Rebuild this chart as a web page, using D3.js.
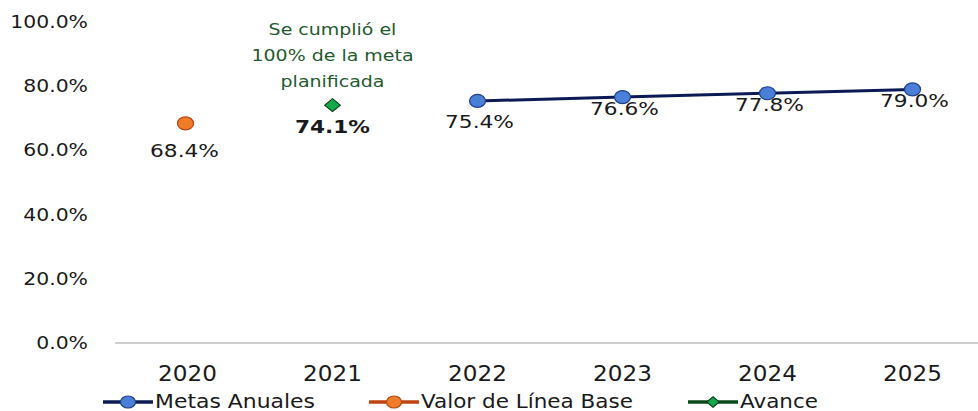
<!DOCTYPE html>
<html>
<head>
<meta charset="utf-8">
<script src="https://cdn.jsdelivr.net/npm/d3@7"></script>
<style>
  body { margin: 0; background: #fff; }
  svg text { font-family: "DejaVu Sans", Verdana, sans-serif; }
</style>
</head>
<body>
<svg id="chart" width="978" height="411"></svg>
<script>
// data
var years = ["2020", "2021", "2022", "2023", "2024", "2025"];
var metas = [null, null, 75.4, 76.6, 77.8, 79.0];
var lineaBase = [68.4, null, null, null, null, null];
var avance = [null, 74.1, null, null, null, null];
var yTicks = [0, 20, 40, 60, 80, 100];
var noteLines = ["Se cumplió el", "100% de la meta", "planificada"];
var legendNames = ["Metas Anuales", "Valor de Línea Base", "Avance"];

var svg = d3.select("#chart");
var stretch = 1.22; // the picture is a bit wide, text too

var x = d3.scaleBand().domain(years).range([115, 985]);
var y = d3.scaleLinear().domain([0, 100]).range([343, 22]);
function cx(d) { return x(d) + x.bandwidth() / 2; }

// wide text helper
function wtext(g, tx, ty, str, k) {
	return g.append("text")
		.attr("transform", "translate(" + tx + "," + ty + ") scale(" + (k || stretch) + ",1)")
		.text(str);
}

function diamond(g, px, py, size) {
	return g.append("path")
		.attr("d", d3.symbol(d3.symbolSquare, size)())
		.attr("transform", "translate(" + px + "," + py + ") scale(1.2,1) rotate(45)");
}

// y axis labels
var yg = svg.append("g");
yTicks.forEach(function(t) {
	wtext(yg, 88, y(t) + 6, d3.format(".1f")(t) + "%", 1.2)
		.attr("text-anchor", "end")
		.attr("font-size", 17)
		.attr("fill", "#1a1a1a");
});

// baseline
svg.append("line")
	.attr("x1", 115).attr("x2", 978)
	.attr("y1", y(0)).attr("y2", y(0))
	.attr("stroke", "#bfbfbf")
	.attr("stroke-width", 1.5);

// year labels
var xg = svg.append("g");
years.forEach(function(yr) {
	wtext(xg, cx(yr), 381, yr, 1.1)
		.attr("text-anchor", "middle")
		.attr("font-family", "'Liberation Sans', Arial, sans-serif")
		.attr("font-size", 21)
		.attr("fill", "#1a1a1a");
});

// metas line
var metaPts = years.map(function(yr, i) { return {yr: yr, v: metas[i]}; })
	.filter(function(d) { return d.v != null; });

svg.append("path")
	.datum(metaPts)
	.attr("d", d3.line().x(function(d) { return cx(d.yr); }).y(function(d) { return y(d.v); }))
	.attr("fill", "none")
	.attr("stroke", "#0b1a55")
	.attr("stroke-width", 3);

svg.append("g").selectAll("ellipse")
	.data(metaPts)
	.enter()
	.append("ellipse")
	.attr("cx", function(d) { return cx(d.yr); })
	.attr("cy", function(d) { return y(d.v); })
	.attr("rx", 8).attr("ry", 6.5)
	.attr("fill", "#4a7fd8")
	.attr("stroke", "#1f3f8a")
	.attr("stroke-width", 1.2);

// metas labels (under the markers, first one a bit lower)
var lg = svg.append("g");
metaPts.forEach(function(d, i) {
	var dy = i == 0 ? 27 : 18;
	wtext(lg, cx(d.yr) + 2, y(d.v) + dy, d.v.toFixed(1) + "%", 1.24)
		.attr("text-anchor", "middle")
		.attr("font-size", 17.5)
		.attr("fill", "#1a1a1a");
});

// linea base
years.forEach(function(yr, i) {
	if (lineaBase[i] == null) return;
	svg.append("ellipse")
		.attr("cx", cx(yr) - 2).attr("cy", y(lineaBase[i]))
		.attr("rx", 8).attr("ry", 6.5)
		.attr("fill", "#f07c2a")
		.attr("stroke", "#b5460f")
		.attr("stroke-width", 1.2);
	wtext(svg, cx(yr) - 3, y(lineaBase[i]) + 34, lineaBase[i].toFixed(1) + "%", 1.24)
		.attr("text-anchor", "middle")
		.attr("font-size", 17.5)
		.attr("fill", "#1a1a1a");
});

// avance
years.forEach(function(yr, i) {
	if (avance[i] == null) return;
	diamond(svg, cx(yr), y(avance[i]), 85)
		.attr("fill", "#13a84a")
		.attr("stroke", "#0b3a1a")
		.attr("stroke-width", 1);
	wtext(svg, cx(yr), y(avance[i]) + 28, avance[i].toFixed(1) + "%", 1.2)
		.attr("text-anchor", "middle")
		.attr("font-size", 18)
		.attr("font-weight", "bold")
		.attr("fill", "#1a1a1a");
	// note above
	noteLines.forEach(function(s, j) {
		wtext(svg, cx(yr), 35 + j * 26, s, 1.15)
			.attr("text-anchor", "middle")
			.attr("font-size", 16.5)
			.attr("fill", "#1d5a2e");
	});
});

// legend
var legX = [103, 369, 688];
var legW = [160, 212, 78];
var legCol = [
	{line: "#0b1a55", fill: "#4a7fd8", stroke: "#1f3f8a", sym: "c"},
	{line: "#c0440f", fill: "#f07c2a", stroke: "#b5460f", sym: "c"},
	{line: "#0b4a1c", fill: "#13a84a", stroke: "#0b3a1a", sym: "d"}
];
var leg = svg.append("g");
legendNames.forEach(function(name, i) {
	var lx = legX[i], ly = 402, c = legCol[i];
	leg.append("line")
		.attr("x1", lx).attr("x2", lx + 50)
		.attr("y1", ly).attr("y2", ly)
		.attr("stroke", c.line).attr("stroke-width", 3.5);
	if (c.sym == "c") {
		leg.append("ellipse")
			.attr("cx", lx + 25).attr("cy", ly)
			.attr("rx", 7.5).attr("ry", 6)
			.attr("fill", c.fill).attr("stroke", c.stroke).attr("stroke-width", 1.2);
	} else {
		diamond(leg, lx + 25, ly, 55)
			.attr("fill", c.fill).attr("stroke", c.stroke);
	}
	leg.append("text")
		.attr("x", lx + 52).attr("y", ly + 6)
		.attr("textLength", legW[i])
		.attr("lengthAdjust", "spacingAndGlyphs")
		.attr("font-family", "'Liberation Sans', Arial, sans-serif")
		.attr("font-size", 19)
		.attr("fill", "#1a1a1a")
		.text(name);
});
</script>
</body>
</html>
